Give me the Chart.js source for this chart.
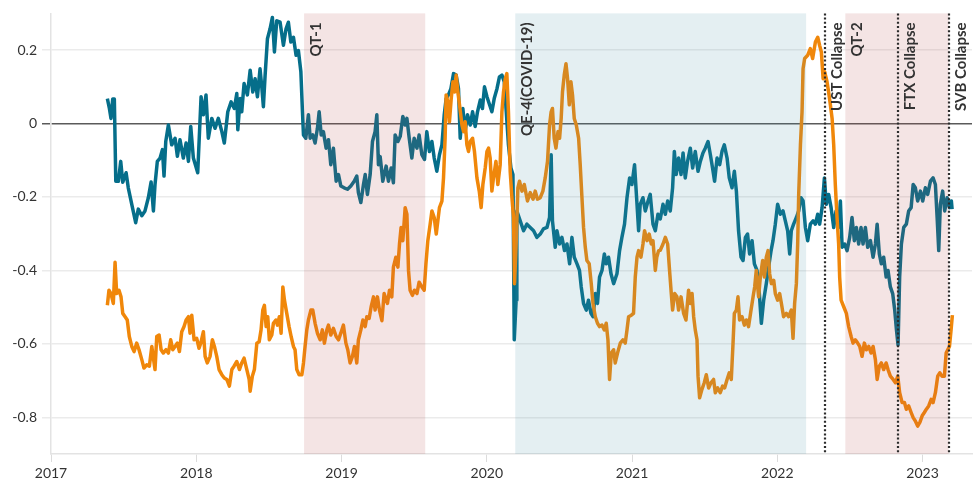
<!DOCTYPE html>
<html>
<head>
<meta charset="utf-8">
<script src="https://cdn.jsdelivr.net/npm/chart.js@4/dist/chart.umd.min.js"></script>
<style>
  html, body { margin: 0; padding: 0; background: #fff; }
  #wrap { width: 975px; height: 483px; }
</style>
</head>
<body>
<div id="wrap"><canvas id="chartCanvas" width="975" height="483"></canvas></div>
<script>
// dates are decimal years
const tealDates = [
  2017.388, 2017.402, 2017.413, 2017.425, 2017.436, 2017.446, 2017.464, 2017.480, 2017.494, 2017.517,
  2017.532, 2017.556, 2017.583, 2017.601, 2017.625, 2017.647, 2017.670, 2017.689, 2017.705, 2017.716,
  2017.732, 2017.751, 2017.767, 2017.778, 2017.790, 2017.808, 2017.831, 2017.854, 2017.870, 2017.888,
  2017.911, 2017.930, 2017.946, 2017.962, 2017.980, 2018.010, 2018.033, 2018.049, 2018.067, 2018.083,
  2018.107, 2018.129, 2018.152, 2018.176, 2018.193, 2018.217, 2018.240, 2018.262, 2018.279, 2018.286,
  2018.302, 2018.313, 2018.329, 2018.352, 2018.371, 2018.389, 2018.405, 2018.421, 2018.439, 2018.451,
  2018.462, 2018.474, 2018.490, 2018.508, 2018.524, 2018.538, 2018.554, 2018.577, 2018.600, 2018.618,
  2018.634, 2018.651, 2018.669, 2018.687, 2018.703, 2018.720, 2018.731, 2018.738, 2018.754, 2018.772,
  2018.784, 2018.802, 2018.818, 2018.834, 2018.846, 2018.860, 2018.875, 2018.894, 2018.910, 2018.926,
  2018.944, 2018.963, 2018.979, 2018.995, 2019.018, 2019.041, 2019.064, 2019.087, 2019.105, 2019.116,
  2019.133, 2019.151, 2019.163, 2019.178, 2019.197, 2019.213, 2019.231, 2019.243, 2019.254, 2019.266,
  2019.284, 2019.307, 2019.323, 2019.342, 2019.357, 2019.369, 2019.388, 2019.404, 2019.422, 2019.438,
  2019.450, 2019.466, 2019.484, 2019.500, 2019.519, 2019.534, 2019.553, 2019.571, 2019.587, 2019.605,
  2019.622, 2019.638, 2019.656, 2019.674, 2019.691, 2019.707, 2019.720, 2019.736, 2019.753, 2019.771,
  2019.789, 2019.805, 2019.817, 2019.835, 2019.851, 2019.867, 2019.886, 2019.902, 2019.920, 2019.936,
  2019.955, 2019.970, 2019.984, 2020.001, 2020.019, 2020.035, 2020.051, 2020.070, 2020.087, 2020.104,
  2020.120, 2020.134, 2020.149, 2020.166, 2020.180, 2020.189, 2020.202, 2020.207, 2020.230, 2020.253,
  2020.276, 2020.299, 2020.322, 2020.345, 2020.368, 2020.390, 2020.414, 2020.432, 2020.443, 2020.452,
  2020.471, 2020.483, 2020.501, 2020.517, 2020.535, 2020.552, 2020.570, 2020.586, 2020.602, 2020.621,
  2020.638, 2020.650, 2020.666, 2020.685, 2020.700, 2020.717, 2020.731, 2020.747, 2020.762, 2020.776,
  2020.793, 2020.809, 2020.822, 2020.838, 2020.855, 2020.873, 2020.896, 2020.914, 2020.930, 2020.948,
  2020.965, 2020.983, 2020.999, 2021.017, 2021.034, 2021.045, 2021.056, 2021.075, 2021.091, 2021.110,
  2021.125, 2021.144, 2021.160, 2021.178, 2021.194, 2021.213, 2021.229, 2021.245, 2021.263, 2021.279,
  2021.291, 2021.304, 2021.320, 2021.337, 2021.351, 2021.366, 2021.382, 2021.401, 2021.417, 2021.435,
  2021.454, 2021.470, 2021.488, 2021.504, 2021.523, 2021.539, 2021.554, 2021.568, 2021.585, 2021.603,
  2021.619, 2021.635, 2021.654, 2021.669, 2021.688, 2021.704, 2021.718, 2021.733, 2021.750, 2021.764,
  2021.780, 2021.795, 2021.809, 2021.826, 2021.842, 2021.860, 2021.876, 2021.890, 2021.906, 2021.924,
  2021.940, 2021.957, 2021.970, 2021.986, 2022.002, 2022.021, 2022.039, 2022.055, 2022.071, 2022.085,
  2022.096, 2022.112, 2022.131, 2022.147, 2022.163, 2022.177, 2022.193, 2022.209, 2022.227, 2022.246,
  2022.262, 2022.278, 2022.291, 2022.308, 2022.324, 2022.337, 2022.353, 2022.370, 2022.388, 2022.404,
  2022.422, 2022.434, 2022.446, 2022.463, 2022.480, 2022.498, 2022.514, 2022.530, 2022.544, 2022.560,
  2022.576, 2022.590, 2022.606, 2022.622, 2022.641, 2022.659, 2022.675, 2022.687, 2022.702, 2022.716,
  2022.732, 2022.749, 2022.762, 2022.778, 2022.794, 2022.808, 2022.820, 2022.831, 2022.842, 2022.854,
  2022.870, 2022.888, 2022.904, 2022.921, 2022.935, 2022.950, 2022.966, 2022.985, 2023.001, 2023.019,
  2023.035, 2023.054, 2023.072, 2023.088, 2023.100, 2023.111, 2023.122, 2023.138, 2023.152, 2023.169,
  2023.185, 2023.198, 2023.203
];
const tealValues = [
  0.068, 0.041, 0.014, 0.067, 0.067, -0.157, -0.157, -0.103, -0.16, -0.134,
  -0.175, -0.22, -0.27, -0.233, -0.251, -0.238, -0.202, -0.159, -0.238, -0.166,
  -0.103, -0.094, -0.071, -0.143, -0.049, -0.004, -0.058, -0.04, -0.089, -0.044,
  -0.094, -0.053, -0.103, -0.008, -0.094, -0.134, 0.073, 0.024, 0.078, -0.04,
  0.014, -0.013, 0.014, -0.022, -0.053, 0.032, 0.059, 0.041, 0.082, -0.017,
  0.068, 0.032, 0.109, 0.078, 0.145, 0.086, 0.122, 0.073, 0.149, 0.1,
  0.046, 0.132, 0.231, 0.258, 0.289, 0.195, 0.28, 0.276, 0.213, 0.258,
  0.276, 0.222, 0.235, 0.186, 0.199, 0.141, 0.032, -0.031, -0.04, 0.024,
  -0.04, -0.031, -0.053, -0.013, 0.032, -0.031, -0.022, -0.067, -0.044, -0.112,
  -0.067, -0.157, -0.139, -0.17, -0.175, -0.179, -0.17, -0.157, -0.143, -0.188,
  -0.215, -0.166, -0.139, -0.193, -0.139, -0.049, -0.022, 0.024, -0.112, -0.09,
  -0.157, -0.116, -0.157, -0.121, -0.161, -0.031, -0.049, -0.035, 0.019, -0.004,
  0.014, -0.04, -0.094, -0.04, -0.067, -0.031, -0.085, -0.098, -0.022, -0.076,
  -0.049, -0.094, -0.13, -0.085, -0.058, 0.024, 0.068, 0.078, 0.095, 0.136,
  0.132, 0.095, -0.04, 0.041, -0.022, 0.024, -0.004, 0.032, -0.008, 0.032,
  0.064, 0.041, 0.1, 0.073, 0.051, 0.032, 0.068, 0.095, 0.127, 0.132,
  0.114, 0.032, -0.058, -0.121, -0.139, -0.589, -0.481, -0.238, -0.265, -0.292,
  -0.274, -0.283, -0.292, -0.31, -0.301, -0.287, -0.283, -0.256, -0.085, -0.265,
  -0.337, -0.292, -0.328, -0.31, -0.346, -0.328, -0.382, -0.31, -0.364, -0.382,
  -0.4, -0.445, -0.49, -0.508, -0.481, -0.517, -0.526, -0.463, -0.49, -0.418,
  -0.4, -0.355, -0.382, -0.364, -0.409, -0.436, -0.409, -0.346, -0.31, -0.274,
  -0.202, -0.148, -0.166, -0.112, -0.22, -0.292, -0.22, -0.202, -0.238, -0.211,
  -0.193, -0.274, -0.292, -0.247, -0.26, -0.22, -0.247, -0.211, -0.238, -0.175,
  -0.076, -0.139, -0.094, -0.139, -0.08, -0.148, -0.103, -0.067, -0.121, -0.076,
  -0.13, -0.103, -0.08, -0.067, -0.049, -0.085, -0.121, -0.157, -0.094, -0.112,
  -0.076, -0.058, -0.094, -0.148, -0.175, -0.13, -0.184, -0.292, -0.364, -0.373,
  -0.31, -0.301, -0.355, -0.319, -0.382, -0.4, -0.463, -0.544, -0.481, -0.436,
  -0.391, -0.346, -0.319, -0.274, -0.22, -0.247, -0.238, -0.265, -0.292, -0.355,
  -0.292, -0.274, -0.256, -0.238, -0.202, -0.21, -0.283, -0.319, -0.274, -0.265,
  -0.274, -0.247, -0.274, -0.229, -0.148, -0.22, -0.193, -0.229, -0.283, -0.238,
  -0.283, -0.211, -0.337, -0.328, -0.346, -0.31, -0.256, -0.319, -0.283, -0.328,
  -0.283, -0.328, -0.283, -0.337, -0.319, -0.364, -0.328, -0.274, -0.355, -0.382,
  -0.364, -0.418, -0.4, -0.445, -0.463, -0.508, -0.562, -0.603, -0.418, -0.328,
  -0.283, -0.274, -0.238, -0.229, -0.166, -0.175, -0.211, -0.184, -0.211, -0.175,
  -0.193, -0.157, -0.148, -0.166, -0.256, -0.346, -0.22, -0.184, -0.238, -0.202,
  -0.229, -0.211, -0.233
];

const orangeDates = [
  2017.388, 2017.399, 2017.413, 2017.429, 2017.441, 2017.452, 2017.468, 2017.482, 2017.494, 2017.510,
  2017.525, 2017.539, 2017.556, 2017.572, 2017.590, 2017.606, 2017.625, 2017.640, 2017.659, 2017.677,
  2017.694, 2017.705, 2017.716, 2017.728, 2017.744, 2017.758, 2017.773, 2017.792, 2017.808, 2017.824,
  2017.838, 2017.854, 2017.870, 2017.884, 2017.900, 2017.916, 2017.930, 2017.946, 2017.957, 2017.969,
  2017.985, 2018.003, 2018.019, 2018.031, 2018.049, 2018.061, 2018.076, 2018.095, 2018.111, 2018.125,
  2018.141, 2018.157, 2018.176, 2018.193, 2018.210, 2018.228, 2018.245, 2018.260, 2018.279, 2018.297,
  2018.313, 2018.329, 2018.348, 2018.364, 2018.371, 2018.386, 2018.400, 2018.417, 2018.433, 2018.446,
  2018.458, 2018.469, 2018.481, 2018.492, 2018.503, 2018.520, 2018.531, 2018.548, 2018.559, 2018.572,
  2018.584, 2018.596, 2018.607, 2018.623, 2018.639, 2018.653, 2018.669, 2018.680, 2018.692, 2018.708,
  2018.727, 2018.738, 2018.749, 2018.761, 2018.772, 2018.789, 2018.802, 2018.818, 2018.834, 2018.853,
  2018.868, 2018.882, 2018.899, 2018.910, 2018.926, 2018.944, 2018.963, 2018.979, 2018.995, 2019.013,
  2019.030, 2019.043, 2019.059, 2019.075, 2019.089, 2019.105, 2019.116, 2019.133, 2019.147, 2019.163,
  2019.174, 2019.190, 2019.204, 2019.220, 2019.231, 2019.247, 2019.261, 2019.278, 2019.293, 2019.316,
  2019.330, 2019.346, 2019.357, 2019.374, 2019.388, 2019.399, 2019.410, 2019.422, 2019.438, 2019.450,
  2019.461, 2019.472, 2019.488, 2019.502, 2019.519, 2019.534, 2019.553, 2019.569, 2019.581, 2019.594,
  2019.610, 2019.622, 2019.638, 2019.652, 2019.663, 2019.674, 2019.691, 2019.702, 2019.713, 2019.720,
  2019.732, 2019.743, 2019.755, 2019.767, 2019.778, 2019.789, 2019.801, 2019.812, 2019.829, 2019.840,
  2019.851, 2019.863, 2019.874, 2019.886, 2019.902, 2019.915, 2019.932, 2019.948, 2019.961, 2019.973,
  2019.989, 2020.001, 2020.012, 2020.023, 2020.035, 2020.046, 2020.063, 2020.076, 2020.092, 2020.104,
  2020.115, 2020.127, 2020.138, 2020.149, 2020.161, 2020.173, 2020.184, 2020.191, 2020.202, 2020.214,
  2020.225, 2020.242, 2020.258, 2020.280, 2020.299, 2020.318, 2020.333, 2020.349, 2020.368, 2020.386,
  2020.402, 2020.418, 2020.432, 2020.443, 2020.452, 2020.464, 2020.476, 2020.490, 2020.501, 2020.512,
  2020.521, 2020.533, 2020.545, 2020.556, 2020.568, 2020.579, 2020.590, 2020.602, 2020.616, 2020.632,
  2020.643, 2020.655, 2020.666, 2020.678, 2020.689, 2020.705, 2020.719, 2020.731, 2020.747, 2020.762,
  2020.776, 2020.793, 2020.809, 2020.822, 2020.834, 2020.845, 2020.857, 2020.873, 2020.884, 2020.900,
  2020.919, 2020.937, 2020.953, 2020.965, 2020.976, 2020.995, 2021.010, 2021.022, 2021.034, 2021.045,
  2021.061, 2021.075, 2021.086, 2021.103, 2021.118, 2021.132, 2021.144, 2021.160, 2021.170, 2021.183,
  2021.194, 2021.213, 2021.229, 2021.245, 2021.258, 2021.270, 2021.279, 2021.293, 2021.309, 2021.320,
  2021.337, 2021.355, 2021.371, 2021.389, 2021.401, 2021.413, 2021.424, 2021.435, 2021.447, 2021.454,
  2021.465, 2021.481, 2021.497, 2021.511, 2021.527, 2021.543, 2021.561, 2021.573, 2021.589, 2021.607,
  2021.623, 2021.637, 2021.654, 2021.669, 2021.683, 2021.695, 2021.704, 2021.718, 2021.729, 2021.740,
  2021.757, 2021.773, 2021.787, 2021.802, 2021.819, 2021.833, 2021.844, 2021.855, 2021.871, 2021.883,
  2021.899, 2021.911, 2021.924, 2021.936, 2021.947, 2021.959, 2021.975, 2021.986, 2022.002, 2022.016,
  2022.028, 2022.043, 2022.062, 2022.078, 2022.096, 2022.108, 2022.119, 2022.131, 2022.140, 2022.147,
  2022.159, 2022.170, 2022.177, 2022.188, 2022.209, 2022.227, 2022.243, 2022.262, 2022.278, 2022.291,
  2022.303, 2022.315, 2022.326, 2022.342, 2022.353, 2022.365, 2022.377, 2022.388, 2022.399, 2022.411,
  2022.422, 2022.429, 2022.439, 2022.457, 2022.475, 2022.491, 2022.508, 2022.521, 2022.537, 2022.553,
  2022.567, 2022.583, 2022.599, 2022.613, 2022.629, 2022.645, 2022.659, 2022.675, 2022.687, 2022.702,
  2022.716, 2022.732, 2022.749, 2022.762, 2022.778, 2022.797, 2022.813, 2022.829, 2022.842, 2022.859,
  2022.875, 2022.888, 2022.904, 2022.921, 2022.935, 2022.950, 2022.966, 2022.981, 2022.997, 2023.012,
  2023.026, 2023.042, 2023.059, 2023.072, 2023.088, 2023.104, 2023.118, 2023.134, 2023.150, 2023.162,
  2023.173, 2023.185, 2023.196, 2023.205
];
const orangeValues = [
  -0.495, -0.454, -0.463, -0.49, -0.378, -0.463, -0.454, -0.472, -0.517, -0.526,
  -0.535, -0.58, -0.607, -0.621, -0.598, -0.616, -0.643, -0.666, -0.657, -0.661,
  -0.607, -0.639, -0.67, -0.58, -0.576, -0.616, -0.625, -0.616, -0.625, -0.589,
  -0.616, -0.607, -0.598, -0.621, -0.567, -0.553, -0.535, -0.526, -0.571, -0.522,
  -0.589, -0.585, -0.612, -0.598, -0.567, -0.634, -0.652, -0.634, -0.589, -0.607,
  -0.634, -0.67, -0.684, -0.693, -0.697, -0.715, -0.67, -0.661, -0.648, -0.67,
  -0.652, -0.639, -0.67, -0.697, -0.729, -0.688, -0.67, -0.598, -0.594, -0.562,
  -0.508, -0.495, -0.553, -0.526, -0.589, -0.576, -0.544, -0.535, -0.549, -0.526,
  -0.571, -0.445, -0.481, -0.517, -0.553, -0.58, -0.607, -0.616, -0.67, -0.684,
  -0.684, -0.652, -0.607, -0.562, -0.535, -0.508, -0.508, -0.544, -0.571, -0.589,
  -0.562, -0.598, -0.562, -0.549, -0.576, -0.558, -0.58, -0.589, -0.571, -0.549,
  -0.598, -0.616, -0.652, -0.634, -0.607, -0.652, -0.589, -0.562, -0.535, -0.553,
  -0.526, -0.531, -0.499, -0.472, -0.508, -0.472, -0.508, -0.537, -0.463, -0.49,
  -0.454, -0.472, -0.391, -0.364, -0.391, -0.328, -0.283, -0.319, -0.229, -0.247,
  -0.4, -0.454, -0.468, -0.454, -0.463, -0.432, -0.445, -0.454, -0.382, -0.319,
  -0.274, -0.238, -0.256, -0.301, -0.265, -0.229, -0.211, -0.148, -0.04, 0.078,
  0.059, 0.005, 0.068, 0.114, 0.086, 0.132, 0.086, 0.051, -0.004, -0.022,
  0.005, -0.058, -0.076, -0.049, -0.04, -0.076, -0.148, -0.184, -0.229, -0.166,
  -0.121, -0.076, -0.067, -0.094, -0.184, -0.148, -0.103, -0.166, -0.112, 0.032,
  0.086, 0.122, 0.136, 0.032, -0.13, -0.202, -0.256, -0.436, -0.328, -0.175,
  -0.157, -0.184, -0.166, -0.211, -0.188, -0.206, -0.184, -0.206, -0.202, -0.184,
  -0.148, -0.103, -0.004, 0.032, 0.041, -0.04, -0.067, -0.022, -0.04, 0.014,
  0.086, 0.132, 0.163, 0.122, 0.051, 0.114, 0.078, 0.014, -0.004, -0.04,
  -0.112, -0.202, -0.283, -0.337, -0.373, -0.382, -0.436, -0.49, -0.526, -0.544,
  -0.553, -0.549, -0.562, -0.544, -0.589, -0.697, -0.625, -0.616, -0.652, -0.625,
  -0.598, -0.589, -0.598, -0.562, -0.526, -0.522, -0.517, -0.418, -0.364, -0.346,
  -0.364, -0.328, -0.292, -0.319, -0.301, -0.328, -0.319, -0.4, -0.364, -0.346,
  -0.345, -0.328, -0.31, -0.328, -0.4, -0.463, -0.508, -0.463, -0.472, -0.508,
  -0.472, -0.517, -0.535, -0.454, -0.49, -0.463, -0.526, -0.562, -0.589, -0.688,
  -0.747, -0.724, -0.706, -0.684, -0.72, -0.706, -0.697, -0.733, -0.72, -0.733,
  -0.715, -0.72, -0.697, -0.679, -0.697, -0.598, -0.517, -0.508, -0.472, -0.535,
  -0.526, -0.549, -0.535, -0.553, -0.508, -0.472, -0.445, -0.4, -0.472, -0.418,
  -0.373, -0.418, -0.364, -0.346, -0.409, -0.436, -0.427, -0.463, -0.481, -0.463,
  -0.49, -0.526, -0.517, -0.526, -0.508, -0.585, -0.49, -0.436, -0.328, -0.193,
  -0.058, 0.032, 0.149, 0.177, 0.186, 0.204, 0.177, 0.222, 0.235, 0.213,
  0.195, 0.122, 0.141, 0.114, 0.086, 0.051, 0.014, -0.058, -0.166, -0.256,
  -0.328, -0.418, -0.481, -0.499, -0.517, -0.553, -0.58, -0.598, -0.589, -0.598,
  -0.607, -0.634, -0.598, -0.616, -0.607, -0.625, -0.607, -0.643, -0.697, -0.661,
  -0.652, -0.67, -0.652, -0.67, -0.688, -0.697, -0.706, -0.688, -0.733, -0.76,
  -0.76, -0.778, -0.769, -0.787, -0.801, -0.81, -0.824, -0.814, -0.796, -0.787,
  -0.778, -0.769, -0.751, -0.76, -0.733, -0.688, -0.679, -0.688, -0.688, -0.625,
  -0.616, -0.607, -0.562, -0.522
];

const xTicks = [2017, 2018, 2019, 2020, 2021, 2022, 2023];
const yTicks = [-0.8, -0.6, -0.4, -0.2, 0, 0.2];

// policy periods (shaded) and events (dotted lines)
const periodNames = ['QT-1', 'QE-4(COVID-19)', 'QT-2'];
const periodStarts = [2018.742, 2020.196, 2022.468];
const periodEnds = [2019.576, 2022.198, 2023.180];
const periodKinds = ['qt', 'qe', 'qt'];
const eventNames = ['UST Collapse', 'FTX Collapse', 'SVB Collapse'];
const eventDates = [2022.326, 2022.831, 2023.185];

const TEAL = '#056e8a';
const ORANGE = '#f0870a';
const periodFill = {
  qt: 'rgba(182, 75, 75, 0.15)',
  qe: 'rgba(75, 148, 168, 0.15)',
};

function toPoints(dates, values) {
  return dates.map((d, i) => ({ x: d, y: values[i] }));
}

const periodsPlugin = {
  id: 'periods',
  afterDatasetsDraw(chart) {
    const { ctx, chartArea: area, scales } = chart;
    const xs = scales.x;
    ctx.save();

    for (let i = 0; i < periodNames.length; i++) {
      const x0 = xs.getPixelForValue(periodStarts[i]);
      const x1 = xs.getPixelForValue(periodEnds[i]);
      ctx.fillStyle = periodFill[periodKinds[i]];
      ctx.fillRect(x0, area.top, x1 - x0, area.bottom - area.top);
    }

    ctx.strokeStyle = '#2b2b2b';
    ctx.lineWidth = 2.2;
    ctx.setLineDash([2, 2.2]);
    for (const d of eventDates) {
      const px = Math.round(xs.getPixelForValue(d));
      ctx.beginPath();
      ctx.moveTo(px, area.top);
      ctx.lineTo(px, area.bottom);
      ctx.stroke();
    }
    ctx.setLineDash([]);

    ctx.font = 'bold 15px Lato, sans-serif';
    ctx.fillStyle = '#333';
    ctx.textAlign = 'right';
    ctx.textBaseline = 'middle';
    const drawLabel = (text, at) => {
      ctx.save();
      ctx.translate(xs.getPixelForValue(at) + 12, area.top + 9);
      ctx.rotate(-Math.PI / 2);
      ctx.fillText(text, 0, 0);
      ctx.restore();
    };
    periodNames.forEach((n, i) => drawLabel(n, periodStarts[i]));
    eventNames.forEach((n, i) => drawLabel(n, eventDates[i]));

    ctx.restore();
  },
};

Chart.defaults.font.family = 'Lato, sans-serif';
Chart.defaults.font.size = 14;
Chart.defaults.color = '#333';

new Chart(document.getElementById('chartCanvas'), {
  type: 'line',
  data: {
    datasets: [
      {
        label: 'orange',
        data: toPoints(orangeDates, orangeValues),
        borderColor: ORANGE,
        borderWidth: 3.5,
        pointRadius: 0,
        tension: 0,
        borderJoinStyle: 'round',
      },
      {
        label: 'teal',
        data: toPoints(tealDates, tealValues),
        borderColor: TEAL,
        borderWidth: 3.5,
        pointRadius: 0,
        tension: 0,
        borderJoinStyle: 'round',
      },
    ],
  },
  options: {
    responsive: false,
    animation: false,
    layout: { padding: { top: 11, right: 3, left: 0, bottom: 0 } },
    plugins: {
      legend: { display: false },
      tooltip: { enabled: false },
    },
    scales: {
      x: {
        type: 'linear',
        min: 2017,
        max: 2023.34,
        afterBuildTicks: (scale) => { scale.ticks = xTicks.map((v) => ({ value: v })); },
        afterFit: (scale) => { scale.height = 29; },
        ticks: {
          callback: (v) => String(v),
          padding: 3,
          color: '#333',
          maxRotation: 0,
        },
        grid: {
          drawOnChartArea: false,
          drawTicks: true,
          tickLength: 8,
          tickColor: '#dcdcdc',
        },
        border: { display: true, color: '#e3e3e3', width: 1.5 },
      },
      y: {
        min: -0.9,
        max: 0.3,
        afterBuildTicks: (scale) => { scale.ticks = yTicks.map((v) => ({ value: v })); },
        afterFit: (scale) => { scale.width = 51; },
        ticks: {
          callback: (v) => (v === 0 ? '0' : String(Math.round(v * 10) / 10)),
          padding: 5,
          color: '#333',
        },
        grid: {
          color: (c) => (c.tick && c.tick.value === 0 ? '#5a5a5a' : '#ebebeb'),
          lineWidth: 1.5,
          tickLength: 9,
        },
        border: { display: true, color: '#e3e3e3', width: 1.5 },
      },
    },
  },
  plugins: [periodsPlugin],
});
</script>
</body>
</html>
